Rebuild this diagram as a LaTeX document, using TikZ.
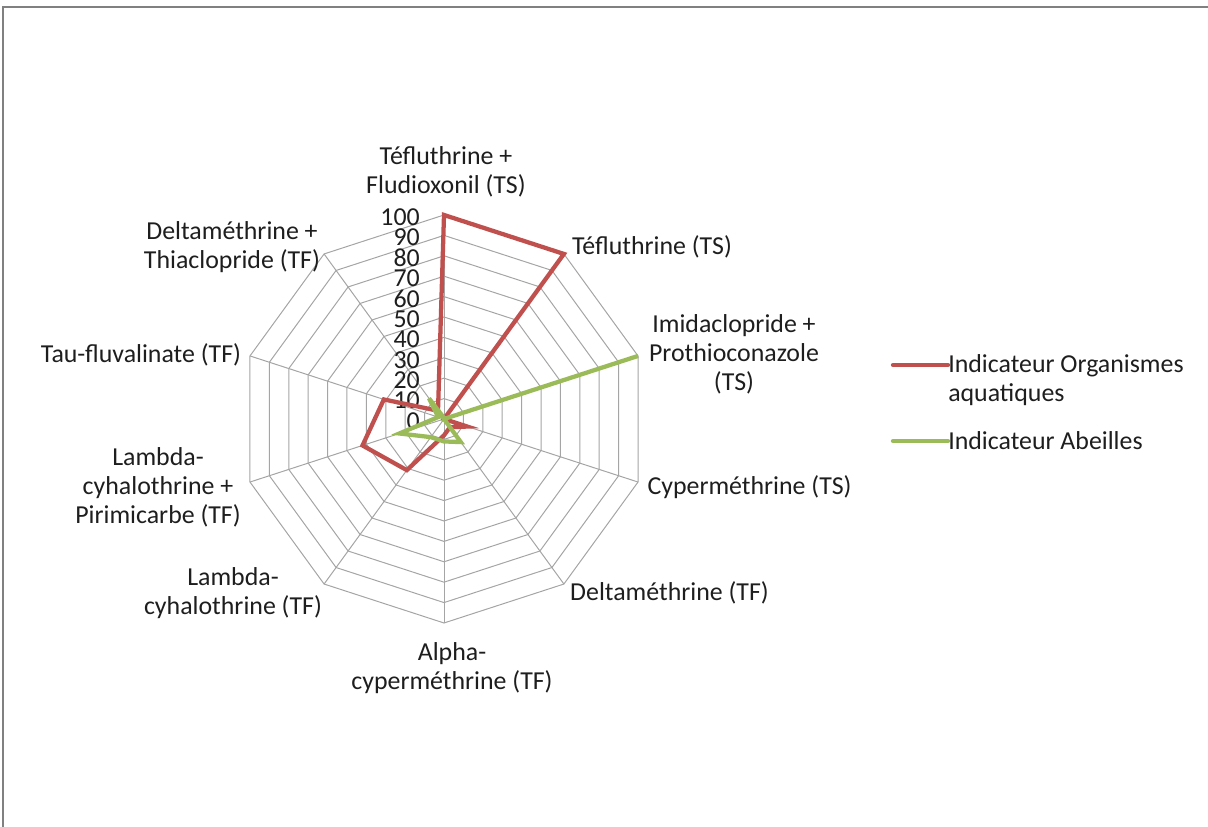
\documentclass[tikz,border=0pt]{standalone}
\usepackage{fontspec}
\setmainfont{Carlito}
\usepackage{tikz}
\usetikzlibrary{calc,positioning}
\definecolor{rouge}{RGB}{192,80,77}
\definecolor{vertc}{RGB}{155,187,89}
\definecolor{grille}{RGB}{165,165,165}
\definecolor{texte}{RGB}{30,30,30}
\tikzset{
  ring/.style={draw=grille, line width=0.75pt},
  spoke/.style={draw=grille, line width=0.75pt},
  tick/.style={inner sep=0pt, anchor=east, text=texte, font=\fontsize{19.4}{21.8}\selectfont},
  lab/.style={inner sep=0pt, align=center, text=texte, font=\fontsize{19.4}{21.8}\selectfont},
  leg/.style={inner sep=0pt, align=left, anchor=west, text=texte, font=\fontsize{19.4}{21.8}\selectfont},
  orga/.style={draw=rouge, line width=3.2pt},
  abei/.style={draw=vertc, line width=3.2pt},
  frame/.style={draw=gray, line width=1.5pt},
}
\begin{document}
\begin{tikzpicture}[x=0.75pt, y=0.75pt]
   \useasboundingbox (0,0) rectangle (1208,827);
   \draw[frame] (3,0) -- (3,820) -- (1208,820);
   \coordinate (C) at (444,408);

   \foreach \k in {1,...,10}
     \draw[ring] ($(C)+(90:{15.3pt*\k})$)
       \foreach \i in {1,...,9}{ -- ($(C)+({90-36*\i}:{15.3pt*\k})$) } -- cycle;
   \foreach \i in {0,...,9}
     \draw[spoke] (C) -- ($(C)+({90-36*\i}:153pt)$);

   \foreach \k in {0,...,10}{
     \pgfmathtruncatemacro\v{10*\k}
     \node[tick] (t\k) at ($(C)+(-24,{20.4*\k-2})$) {\v};
   }

   \node[lab] (l1) at (446,655.5) {Téfluthrine +\\Fludioxonil (TS)};
   \node[lab] (l2) at (652,580) {Téfluthrine (TS)};
   \node[lab] (l3) at (734,472.5) {Imidaclopride +\\Prothioconazole\\(TS)};
   \node[lab] (l4) at (749.5,340) {Cyperméthrine (TS)};
   \node[lab] (l5) at (669.5,234) {Deltaméthrine (TF)};
   \node[lab] (l6) at (452,159) {Alpha-\\cyperméthrine (TF)};
   \node[lab] (l7) at (233,234) {Lambda-\\cyhalothrine (TF)};
   \node[lab] (l8) at (158,340) {Lambda-\\cyhalothrine +\\Pirimicarbe (TF)};
   \node[lab] (l9) at (141,472) {Tau-fluvalinate (TF)};
   \node[lab] (l10) at (232,580) {Deltaméthrine +\\Thiaclopride (TF)};

   \foreach \v [count=\i from 0] in {100,100,0,12,5,8,31,42,31,5}
     \coordinate (o\i) at ($(C)+({90-36*\i}:{1.53pt*\v})$);
   \foreach \v [count=\i from 0] in {0.5,0,100,0,14,11,11,23,3,12.5}
     \coordinate (a\i) at ($(C)+({90-36*\i}:{1.53pt*\v})$);
   \draw[orga] (o0) -- (o1) -- (o2) -- (o3) -- (o4) -- (o5) -- (o6) -- (o7) -- (o8) -- (o9) -- cycle;
   \draw[abei] (a0) -- (a1) -- (a2) -- (a3) -- (a4) -- (a5) -- (a6) -- (a7) -- (a8) -- (a9) -- cycle;

   \node[leg] (lego) at (948,447) {Indicateur Organismes\\aquatiques};
   \node[leg] (lega) at (948,386) {Indicateur Abeilles};
   \coordinate (so) at (893,462);
   \coordinate (sa) at (893,386);
   \draw[orga, line cap=round] (so) -- (so -| lego.west);
   \draw[abei, line cap=round] (sa) -- (lega.west);
\end{tikzpicture}
\end{document}
